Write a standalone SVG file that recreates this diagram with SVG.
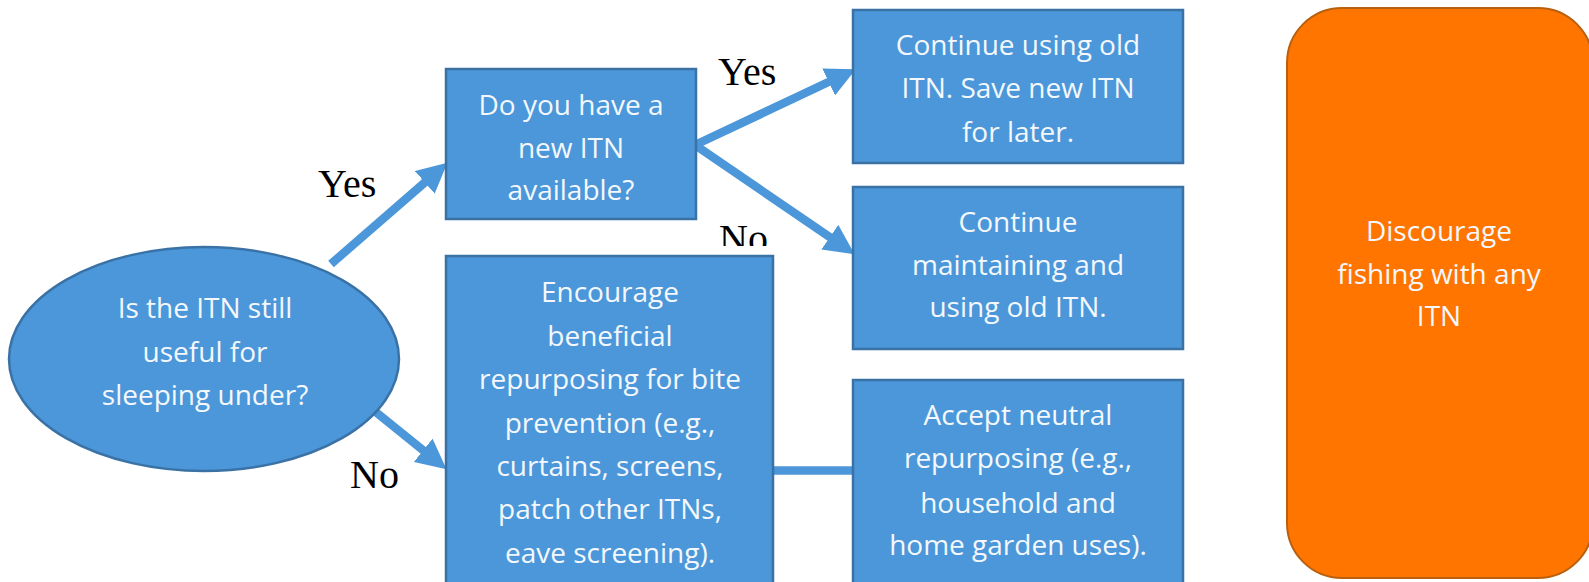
<svg xmlns="http://www.w3.org/2000/svg" width="1589" height="582" viewBox="0 0 1589 582">
  <style>
    .box { fill: #4B97D9; stroke: #3A72A6; stroke-width: 2.5; }
    .orange { fill: #FF7500; stroke: #B9600E; stroke-width: 2; }
    .t { font-family: "Open Sans", "Noto Sans", sans-serif; font-size: 28px; fill: #F4F8FC; text-anchor: middle; }
    .lbl { font-family: "Liberation Serif", "Times New Roman", serif; font-size: 40px; fill: #000000; }
    .conn { stroke: #4B97D9; stroke-width: 8.5; fill: none; }
  </style>
  <defs>
    <marker id="arrow" markerUnits="userSpaceOnUse" markerWidth="30" markerHeight="30" viewBox="0 0 28 28" refX="1" refY="14" orient="auto">
      <path d="M0,0 L28,14 L0,28 Z" fill="#4B97D9"/>
    </marker>
    <clipPath id="clipNo">
      <rect x="700" y="200" width="100" height="46"/>
    </clipPath>
  </defs>

  <g id="connectors">
    <line class="conn" x1="331" y1="264" x2="425.6" y2="181.7" marker-end="url(#arrow)"/>
    <line class="conn" x1="372" y1="409" x2="424" y2="451" marker-end="url(#arrow)"/>
    <line class="conn" x1="695" y1="145" x2="829.6" y2="81.5" marker-end="url(#arrow)"/>
    <line class="conn" x1="695" y1="145" x2="830.7" y2="237.8" marker-end="url(#arrow)"/>
    <line class="conn" x1="772" y1="470.5" x2="853" y2="470.5" stroke-width="9"/>
  </g>

  <g id="labels">
    <text class="lbl" x="318" y="197">Yes</text>
    <text class="lbl" x="718" y="85">Yes</text>
    <text class="lbl" x="719" y="252" clip-path="url(#clipNo)">No</text>
    <text class="lbl" x="350" y="488">No</text>
  </g>

  <g id="node-start">
    <ellipse class="box" cx="204" cy="359" rx="195" ry="112"/>
    <text class="t" x="205" y="318">Is the ITN still</text>
    <text class="t" x="205" y="362">useful for</text>
    <text class="t" x="205" y="405">sleeping under?</text>
  </g>

  <g id="node-newitn">
    <rect class="box" x="446" y="69" width="250" height="150"/>
    <text class="t" x="571" y="115">Do you have a</text>
    <text class="t" x="571" y="158">new ITN</text>
    <text class="t" x="571" y="200">available?</text>
  </g>

  <g id="node-encourage">
    <rect class="box" x="446" y="256" width="327" height="340"/>
    <text class="t" x="610" y="302">Encourage</text>
    <text class="t" x="610" y="346">beneficial</text>
    <text class="t" x="610" y="389">repurposing for bite</text>
    <text class="t" x="610" y="433">prevention (e.g.,</text>
    <text class="t" x="610" y="476">curtains, screens,</text>
    <text class="t" x="610" y="519">patch other ITNs,</text>
    <text class="t" x="610" y="563">eave screening).</text>
  </g>

  <g id="node-continue-old">
    <rect class="box" x="853" y="10" width="330" height="153"/>
    <text class="t" x="1018" y="55">Continue using old</text>
    <text class="t" x="1018" y="98">ITN. Save new ITN</text>
    <text class="t" x="1018" y="142">for later.</text>
  </g>

  <g id="node-continue-maintain">
    <rect class="box" x="853" y="187" width="330" height="162"/>
    <text class="t" x="1018" y="232">Continue</text>
    <text class="t" x="1018" y="275">maintaining and</text>
    <text class="t" x="1018" y="317">using old ITN.</text>
  </g>

  <g id="node-accept">
    <rect class="box" x="853" y="380" width="330" height="216"/>
    <text class="t" x="1018" y="425">Accept neutral</text>
    <text class="t" x="1018" y="468">repurposing (e.g.,</text>
    <text class="t" x="1018" y="513">household and</text>
    <text class="t" x="1018" y="555">home garden uses).</text>
  </g>

  <g id="node-discourage">
    <rect class="orange" x="1287" y="8" width="306" height="570" rx="55" ry="55"/>
    <text class="t" x="1439" y="241">Discourage</text>
    <text class="t" x="1439" y="284">fishing with any</text>
    <text class="t" x="1439" y="326">ITN</text>
  </g>
</svg>
